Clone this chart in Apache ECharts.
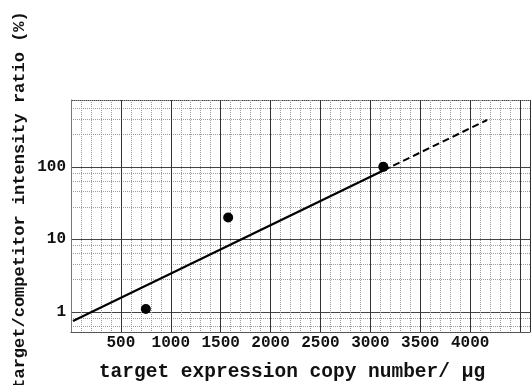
<!DOCTYPE html>
<html>
<head>
<meta charset="utf-8">
<script src="https://cdn.jsdelivr.net/npm/echarts@6/dist/echarts.min.js"></script>
<style>
    html, body { margin: 0; padding: 0; background: #fff; }
    #chart { width: 531px; height: 385px; }
</style>
</head>
<body>
<div id="chart"></div>
<script>
    // measured points (copy number, ratio %)
    const pointX = [750, 1575, 3130];
    const pointY = [1.1, 20, 100];

    // fitted line, solid part then the dashed extrapolation
    const fitSolidX = [20, 3130];
    const fitSolidY = [0.75, 89];
    const fitDashX = [3130, 4170];
    const fitDashY = [89, 442];

    const xTickLabels = [500, 1000, 1500, 2000, 2500, 3000, 3500, 4000];
    const yTickLabels = [1, 10, 100];

    const xTitle = "target expression copy number/ \u00b5g";
    const yTitle = "target/competitor intensity ratio (%)";

    const font = "Liberation Mono";
    const chartInstance = echarts.init(document.getElementById("chart"));

    const option = {
        animation: false,
        grid: {
            left: 71,
            right: 1,
            top: 100,
            bottom: 53,
            containLabel: false,
            outerBoundsMode: "none",
        },
        // axis titles placed by hand, the scan has them off-centre
        graphic: [
            {
                type: "text",
                x: 20,
                y: 200,
                rotation: Math.PI / 2,
                style: {
                    text: yTitle,
                    font: "bold 17px " + font,
                    fill: "#111",
                    align: "center",
                    verticalAlign: "middle",
                },
            },
            {
                type: "text",
                x: 292,
                y: 372,
                style: {
                    text: xTitle,
                    font: "bold 19.5px " + font,
                    fill: "#111",
                    align: "center",
                    verticalAlign: "middle",
                },
            },
        ],
        xAxis: {
            type: "value",
            min: 0,
            max: 4600,
            interval: 500,
            axisLine: { show: true, lineStyle: { color: "#555", width: 1 } },
            axisTick: { show: false },
            axisLabel: {
                margin: 3,
                fontFamily: font,
                fontWeight: "bold",
                fontSize: 16,
                color: "#111",
                showMinLabel: false,
                showMaxLabel: false,
                formatter: (v) => (xTickLabels.indexOf(v) >= 0 ? String(v) : ""),
            },
            splitLine: { show: true, lineStyle: { color: "#333", width: 1 } },
            minorTick: { show: false, splitNumber: 5 },
            minorSplitLine: {
                show: true,
                lineStyle: { color: "#999", type: "dotted", width: 1 },
            },
        },
        yAxis: {
            type: "log",
            logBase: 10,
            min: 0.53,
            max: 834,
            axisLine: { show: true, lineStyle: { color: "#777", width: 1 } },
            axisTick: { show: false },
            axisLabel: {
                margin: 5,
                fontFamily: font,
                fontWeight: "bold",
                fontSize: 16,
                color: "#111",
                showMinLabel: false,
                showMaxLabel: false,
                formatter: (v) => {
                    const r = Math.round(v);
                    return yTickLabels.indexOf(r) >= 0 && Math.abs(v - r) < 1e-6 ? String(r) : "";
                },
            },
            splitLine: { show: true, lineStyle: { color: "#444", width: 1 } },
            minorTick: { show: false, splitNumber: 5 },
            minorSplitLine: {
                show: true,
                lineStyle: { color: "#999", type: "dotted", width: 1 },
            },
        },
        series: [
            {
                name: "fit",
                type: "line",
                data: fitSolidX.map((x, i) => [x, fitSolidY[i]]),
                showSymbol: false,
                lineStyle: { color: "#000", width: 2.2 },
                z: 3,
            },
            {
                name: "fit extrapolated",
                type: "line",
                data: fitDashX.map((x, i) => [x, fitDashY[i]]),
                showSymbol: false,
                lineStyle: { color: "#000", width: 2, type: [7, 4] },
                z: 3,
            },
            {
                name: "measured",
                type: "scatter",
                data: pointX.map((x, i) => [x, pointY[i]]),
                symbol: "circle",
                symbolSize: 10,
                itemStyle: { color: "#000", opacity: 1 },
                z: 4,
            },
        ],
    };

    chartInstance.setOption(option);
</script>
</body>
</html>
